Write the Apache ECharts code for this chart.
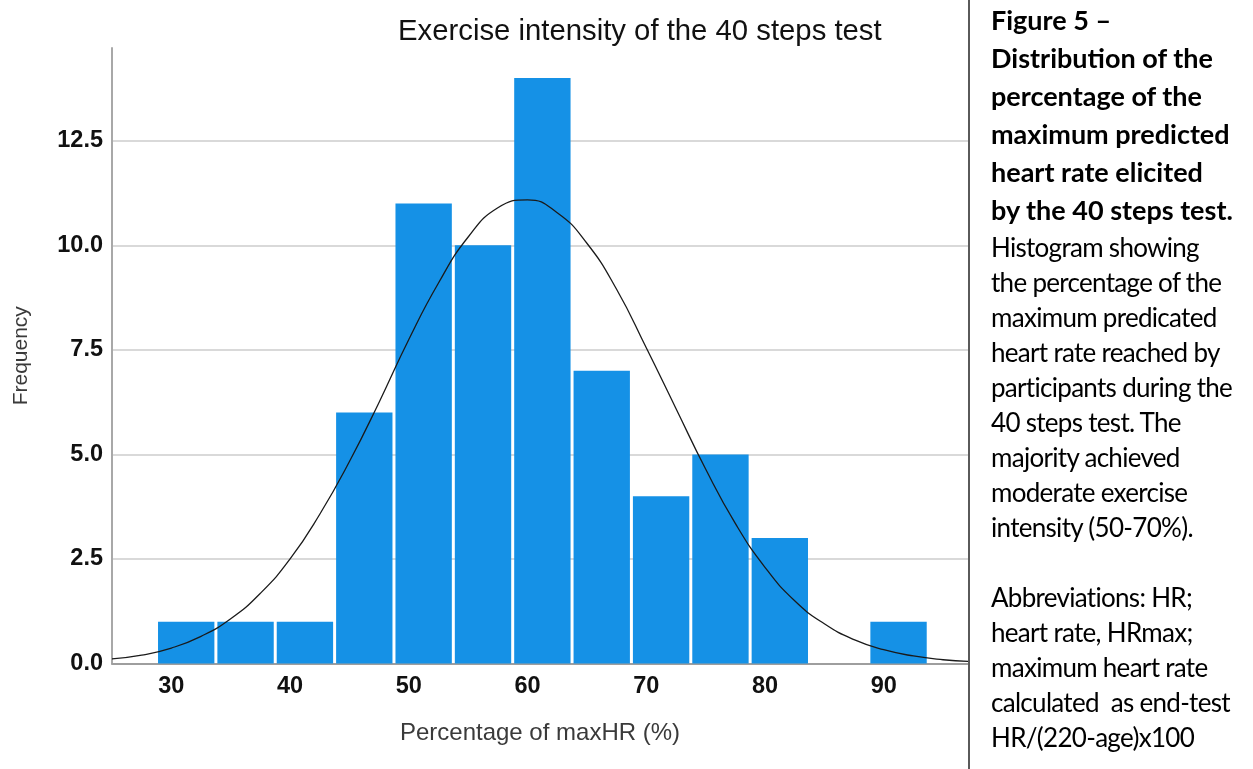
<!DOCTYPE html>
<html>
<head>
<meta charset="utf-8">
<script src="https://cdn.jsdelivr.net/npm/echarts@6/dist/echarts.min.js"></script>
<style>
	html, body { margin: 0; padding: 0; background: #fff; }
	#wrap { position: relative; width: 1253px; height: 769px; overflow: hidden; }
	#chart { position: absolute; left: 0; top: 0; width: 1253px; height: 769px; }
	#divider { position: absolute; left: 968px; top: 0; width: 2px; height: 769px; background: #5a5a5a; }
	.caption { position: absolute; left: 991px; font-family: Lato, 'Noto Sans', sans-serif; color: #000; white-space: pre; }
	#capBold { top: 1px; font-size: 27px; line-height: 38px; font-weight: bold; }
	#capText { top: 230px; font-size: 26px; line-height: 35px; letter-spacing: -0.7px; }
</style>
</head>
<body>
<div id="wrap">
	<div id="chart"></div>
	<div id="divider"></div>
	<div id="capBold" class="caption">Figure 5 –
Distribution of the
percentage of the
maximum predicted
heart rate elicited
by the 40 steps test.</div>
	<div id="capText" class="caption">Histogram showing
the percentage of the
maximum predicated
heart rate reached by
participants during the
40 steps test. The
majority achieved
moderate exercise
intensity (50-70%).

Abbreviations: HR;
heart rate, HRmax;
maximum heart rate
calculated  as end-test
HR/(220-age)x100</div>
</div>
<script>
// histogram bins (% of max HR), 5-unit wide
const binLow = [ 28.75, 33.75, 38.75, 43.75, 48.75, 53.75, 58.75, 63.75, 68.75, 73.75, 78.75, 83.75, 88.75 ];
const binHigh = [ 33.75, 38.75, 43.75, 48.75, 53.75, 58.75, 63.75, 68.75, 73.75, 78.75, 83.75, 88.75, 93.75 ];
const counts = [ 1, 1, 1, 6, 11, 10, 14, 7, 4, 5, 3, 0, 1 ];

// normal curve, points every 2.5 units
const curveX = [ 25, 27.5, 30, 32.5, 35, 37.5, 40, 42.5, 45, 47.5, 50, 52.5, 55, 57.5, 60,
	62.5, 65, 67.5, 70, 72.5, 75, 77.5, 80, 82.5, 85, 87.5, 90, 92.5, 95, 97.1 ];
const curveY = [ 0.11, 0.2, 0.37, 0.65, 1.07, 1.68, 2.5, 3.57, 4.83, 6.25, 7.75, 9.1, 10.2, 10.9, 11.09,
	10.78, 10.05, 8.95, 7.55, 6.1, 4.65, 3.35, 2.3, 1.5, 0.95, 0.57, 0.33, 0.18, 0.09, 0.05 ];

const xTicks = [ 30, 40, 50, 60, 70, 80, 90 ];

const FONT = 'Liberation Sans, Arial, sans-serif';
const BAR = '#1591e6';

const chart = echarts.init( document.getElementById( 'chart' ), null, { renderer: 'canvas' } );

const barData = binLow.map( ( lo, i ) => [ lo, binHigh[ i ], counts[ i ] ] );
const curveData = curveX.map( ( x, i ) => [ x, curveY[ i ] ] );

chart.setOption( {
	animation: false,
	title: {
		text: 'Exercise intensity of the 40 steps test',
		left: 398,
		top: 17,
		padding: 0,
		textStyle: { fontFamily: FONT, fontSize: 29.3, fontWeight: 'normal', color: '#111' }
	},
	grid: { left: 112, right: 285, top: 48, bottom: 105.5 },
	xAxis: {
		type: 'value',
		min: 25,
		max: 97.1,
		name: 'Percentage of maxHR (%)',
		nameLocation: 'middle',
		nameGap: 58,
		nameTextStyle: { fontFamily: FONT, fontSize: 24, color: '#3a3a3a' },
		axisLine: { lineStyle: { color: '#9e9e9e', width: 2 } },
		axisTick: { show: false },
		splitLine: { show: false },
		axisLabel: {
			customValues: xTicks,
			margin: 11,
			fontFamily: FONT,
			fontSize: 23.5,
			fontWeight: 'bold',
			color: '#111'
		}
	},
	yAxis: {
		type: 'value',
		min: 0,
		max: 14.72,
		interval: 2.5,
		name: 'Frequency',
		nameLocation: 'middle',
		nameGap: 80,
		nameTextStyle: { fontFamily: FONT, fontSize: 21, color: '#3a3a3a' },
		axisLine: { show: true, lineStyle: { color: '#a8a8a8', width: 2 } },
		axisTick: { show: false },
		splitLine: { show: true, showMaxLine: false, lineStyle: { color: '#cdcdcd', width: 1.5 } },
		axisLabel: {
			margin: 9,
			showMaxLabel: false,
			fontFamily: FONT,
			fontSize: 23.5,
			fontWeight: 'bold',
			color: '#111',
			formatter: ( v ) => v.toFixed( 1 )
		}
	},
	series: [
		{
			type: 'custom',
			data: barData,
			encode: { x: [ 0, 1 ], y: 2 },
			z: 2,
			renderItem: ( params, api ) => {
				const top = api.coord( [ api.value( 0 ), api.value( 2 ) ] );
				const bottom = api.coord( [ api.value( 1 ), 0 ] );
				return {
					type: 'rect',
					shape: {
						x: top[ 0 ] + 1.5,
						y: top[ 1 ],
						width: bottom[ 0 ] - top[ 0 ] - 3,
						height: bottom[ 1 ] - top[ 1 ]
					},
					style: { fill: BAR }
				};
			}
		},
		{
			type: 'line',
			data: curveData,
			smooth: 0.5,
			showSymbol: false,
			z: 3,
			lineStyle: { color: '#1a1a1a', width: 1.3 }
		}
	]
} );
</script>
</body>
</html>
